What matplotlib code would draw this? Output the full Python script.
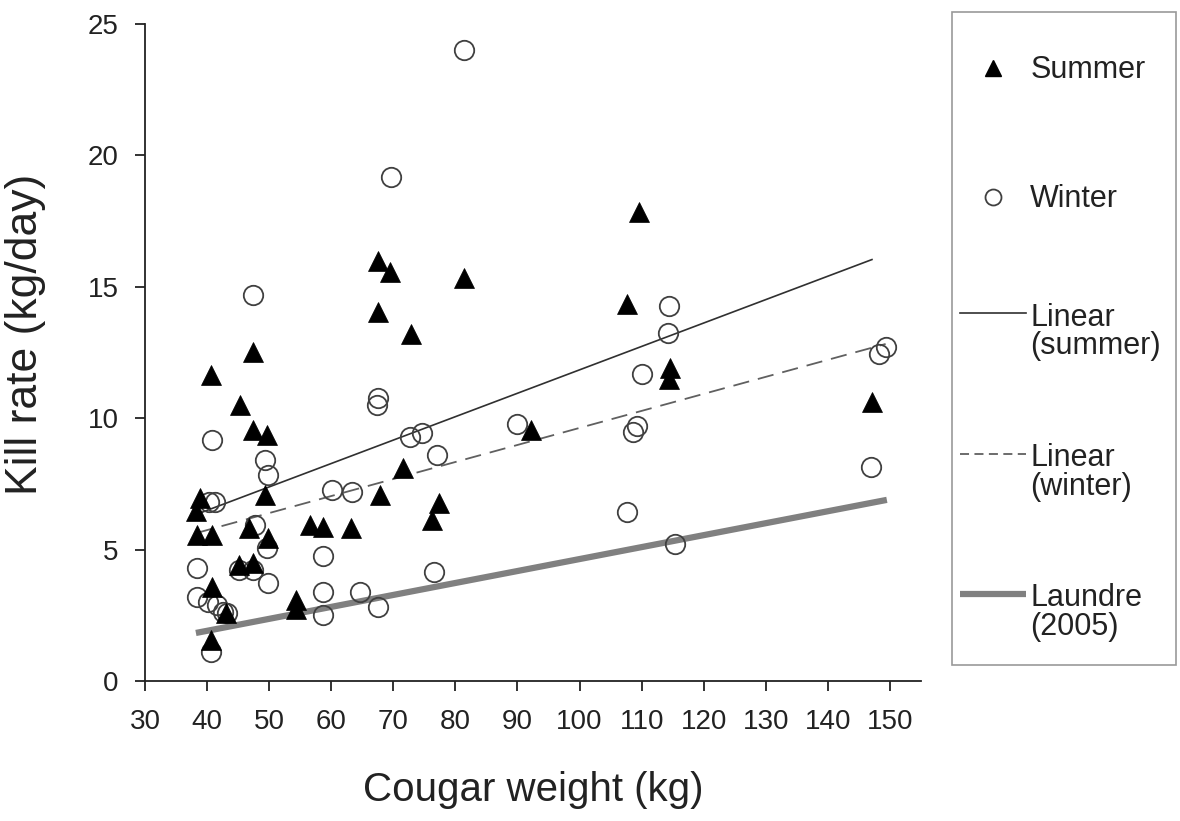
import matplotlib
matplotlib.use("Agg")
import matplotlib.pyplot as plt
import numpy as np
from matplotlib.lines import Line2D
from matplotlib.patches import Rectangle
from matplotlib.legend_handler import HandlerLine2D

plt.rcParams['font.family'] = ['Liberation Sans', 'DejaVu Sans']

# Summer data (cougar weight kg, kill rate kg/day)
summer_x = [38.2, 38.9, 38.4, 40.8, 40.6, 40.8, 40.6, 45.3, 45.1, 47.4, 47.4, 46.7,
            47.4, 49.6, 49.3, 49.8, 54.3, 54.3, 56.5, 58.7, 63.2, 67.5, 69.5, 67.5,
            72.8, 81.4, 71.5, 67.8, 77.3, 76.2, 92.2, 107.6, 109.5, 114.5, 114.4,
            147.1, 43.0]
summer_y = [6.47, 6.96, 5.56, 5.56, 11.64, 3.58, 1.56, 10.5, 4.41, 12.5, 9.55, 5.82,
            4.49, 9.36, 7.08, 5.44, 3.08, 2.75, 5.94, 5.86, 5.82, 16.0, 15.56, 14.04,
            13.2, 15.33, 8.1, 7.08, 6.77, 6.13, 9.55, 14.35, 17.85, 11.9, 11.5,
            10.6, 2.6]

# Winter data
winter_x = [38.4, 38.4, 40.1, 41.6, 42.6, 43.2, 40.6, 40.8, 40.3, 41.3, 47.4, 49.3,
            49.8, 47.7, 49.6, 45.1, 47.4, 49.8, 58.7, 58.7, 58.7, 60.1, 63.3, 64.6,
            67.5, 67.5, 67.4, 69.6, 72.7, 74.7, 77.1, 76.5, 81.4, 89.9, 107.6, 108.6,
            109.3, 110.1, 114.4, 114.2, 115.3, 147.0, 148.3, 149.3]
winter_y = [4.3, 3.2, 3.0, 2.89, 2.63, 2.59, 1.1, 9.17, 6.81, 6.81, 14.69, 8.41,
            7.84, 5.94, 5.06, 4.22, 4.22, 3.73, 4.76, 3.39, 2.51, 7.27, 7.19, 3.39,
            2.82, 10.77, 10.5, 19.18, 9.28, 9.44, 8.6, 4.13, 24.0, 9.78, 6.43, 9.47,
            9.7, 11.68, 14.28, 13.24, 5.2, 8.14, 12.45, 12.7]

# Trend lines: (slope, intercept, x start, x end)
summer_fit = (0.0891, 2.93, 38.2, 147.1)
winter_fit = (0.0648, 3.15, 38.4, 149.3)
laundre_fit = (0.0455, 0.09, 38.2, 149.5)

x_ticks = list(range(30, 151, 10))
y_ticks = [0, 5, 10, 15, 20, 25]

legend_labels = ['Summer', 'Winter', 'Linear\n(summer)', 'Linear\n(winter)', 'Laundre\n(2005)']

fig = plt.figure(figsize=(11.8, 8.21), dpi=100)
ax = fig.add_axes([145/1180, 1-681/821, (921-145)/1180, (681-24)/821])

def fit_line(fit):
    m, b, x0, x1 = fit
    xs = np.array([x0, x1])
    return xs, m*xs + b

lx, ly = fit_line(laundre_fit)
ax.plot(lx, ly, color='#808080', lw=4.5, solid_capstyle='butt', zorder=2)
sx, sy = fit_line(summer_fit)
ax.plot(sx, sy, color='#303030', lw=1.2, zorder=3)
wx, wy = fit_line(winter_fit)
ax.plot(wx, wy, color='#606060', lw=1.3, dashes=(9, 5), zorder=3)

ax.plot(winter_x, winter_y, linestyle='none', marker='o', markersize=14,
        markerfacecolor='none', markeredgecolor='#404040', markeredgewidth=1.3, zorder=4)
ax.plot(summer_x, summer_y, linestyle='none', marker='^', markersize=14,
        markerfacecolor='black', markeredgecolor='black', markeredgewidth=0.5, zorder=5)

ax.set_xlim(30, 155)
ax.set_ylim(0, 25)
ax.set_xticks(x_ticks)
ax.set_yticks(y_ticks)
for s in ['top', 'right']:
    ax.spines[s].set_visible(False)
for s in ['left', 'bottom']:
    ax.spines[s].set_color('#222222')
    ax.spines[s].set_linewidth(1.3)
ax.tick_params(axis='both', direction='out', length=7, width=1.3, color='#222222',
               labelsize=20, labelcolor='#222222')
ax.tick_params(axis='x', pad=13)
ax.tick_params(axis='y', pad=12)
ax.set_xlabel('Cougar weight (kg)', fontsize=29, color='#222222', labelpad=26)
ax.set_ylabel('Kill rate (kg/day)', fontsize=32, color='#222222')
ax.yaxis.set_label_coords(-0.127, 0.527)


class ShiftHandler(HandlerLine2D):
    """Line/marker legend handler shifted vertically by dy * fontsize."""
    def __init__(self, dy=0.0, **kw):
        super().__init__(**kw)
        self.dy = dy

    def create_artists(self, legend, orig_handle, xdescent, ydescent, width,
                       height, fontsize, trans):
        return super().create_artists(legend, orig_handle, xdescent,
                                      ydescent - 2*self.dy*fontsize, width,
                                      height, fontsize, trans)


h_summer = Line2D([], [], linestyle='none', marker='^', markersize=11.5,
                  markerfacecolor='black', markeredgecolor='black')
h_winter = Line2D([], [], linestyle='none', marker='o', markersize=11.5,
                  markerfacecolor='none', markeredgecolor='#404040', markeredgewidth=1.3)
h_ls = Line2D([], [], color='#303030', lw=1.2)
h_lw = Line2D([], [], color='#606060', lw=1.3, dashes=(5, 3))
h_la = Line2D([], [], color='#808080', lw=4.5, solid_capstyle='butt')

leg = fig.legend([h_summer, h_winter, h_ls, h_lw, h_la], legend_labels,
                 loc='upper left', bbox_to_anchor=(960/1180, 1-45/821),
                 borderaxespad=0, fontsize=22, labelcolor='#222222',
                 frameon=False, borderpad=0, labelspacing=2.67,
                 handlelength=2.15, handletextpad=0.15, handleheight=2.0,
                 numpoints=1,
                 handler_map={h_summer: ShiftHandler(-0.2), h_winter: ShiftHandler(-0.2),
                              h_ls: ShiftHandler(0.45), h_lw: ShiftHandler(0.45),
                              h_la: ShiftHandler(0.45)})
for t in leg.get_texts():
    t.set_linespacing(0.95)

fig.add_artist(Rectangle((952/1180, 1-665/821), 224/1180, 653/821,
                         transform=fig.transFigure, fill=False,
                         edgecolor='#999999', linewidth=1.2))

fig.savefig('out.png', dpi=100)
